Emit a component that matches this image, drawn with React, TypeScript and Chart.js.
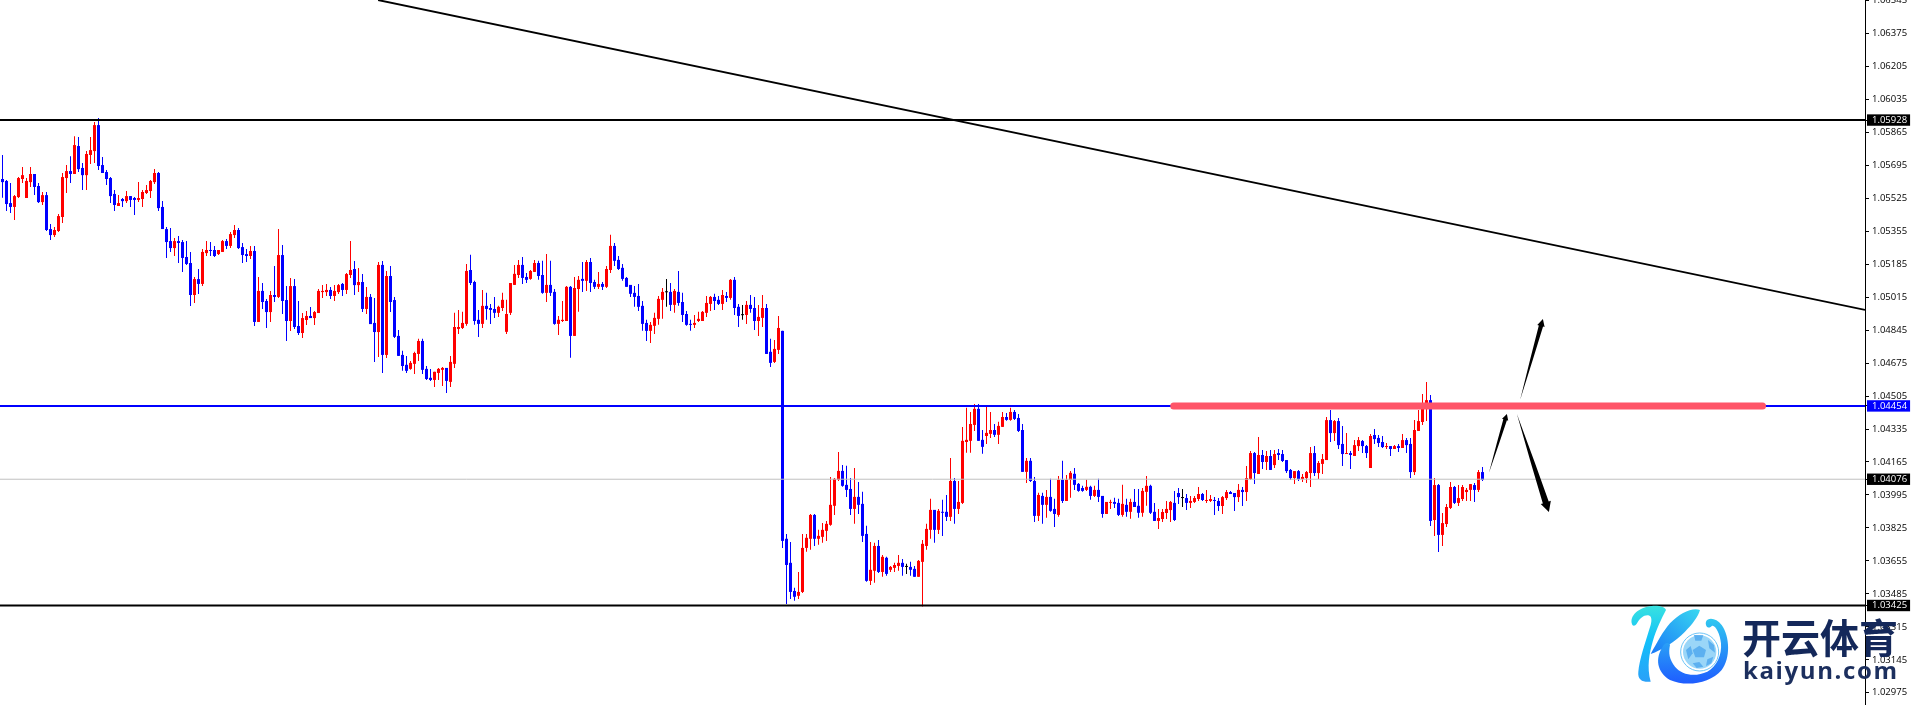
import { useEffect, useRef } from "react";
import { Chart, registerables } from "chart.js";

Chart.register(...registerables);

// Prices are stored in points (1/100000).
const opens = [
105624,105614,105500,105480,105531,105624,105526,105608,105650,105588,
105505,105541,105366,105335,105356,105428,105629,105665,105650,105794,
105681,105644,105748,105768,105902,105696,105660,105629,105547,105485,
105521,105510,105536,105526,105516,105521,105552,105562,105608,105655,
105480,105366,105304,105268,105304,105299,105222,105191,105026,105108,
105083,105242,105258,105258,105237,105248,105304,105279,105335,105361,
105273,105237,105227,105253,104887,105047,104995,104938,105026,105016,
105232,105000,104892,105072,104866,104830,104897,104918,104907,104933,
105041,105041,105052,105021,105041,105083,105052,105129,105160,105077,
105093,104954,105016,104882,104835,105181,104717,105124,105000,104815,
104717,104666,104645,104671,104722,104789,104645,104599,104588,104624,
104640,104650,104578,104671,104851,104856,104877,105155,105093,104898,
104877,104970,104959,104954,104934,104959,104836,104934,105078,105129,
105181,105119,105109,105145,105191,105129,105037,105078,105042,104877,
104892,104892,105068,104815,105057,105109,105099,105196,105093,105068,
105083,105068,105155,105279,105207,105166,105114,105078,105037,105021,
104970,104882,104841,104867,104903,105001,105040,105042,104975,105042,
104990,104928,104877,104872,104892,104892,104934,104980,105016,105001,
104980,105021,105011,105104,104965,104922,104923,104975,104959,104892,
104908,104959,104733,104681,104743,104841,103769,103645,103500,103475,
103495,103722,103769,103892,103769,103779,103810,103841,103939,104073,
104119,104047,104026,103923,103985,103949,103794,103552,103604,103732,
103598,103671,103609,103619,103629,103645,103624,103624,103614,103573,
103650,103732,103815,103918,103815,103908,103908,103882,104067,103923,
103954,104268,104274,104356,104439,104279,104299,104310,104330,104305,
104346,104397,104382,104423,104392,104330,104114,104171,104067,103887,
103990,103944,103985,103923,103892,104073,103964,104073,104104,104052,
104031,104021,104037,103990,104021,103990,103897,103954,103959,103954,
103892,103944,103908,103959,103939,103903,104011,104042,103908,103861,
103871,103902,103917,103954,104005,103979,103979,103954,103959,103974,
104000,103964,103964,103969,103964,103938,103979,104010,104005,103984,
104021,104010,104077,104211,104103,104201,104165,104196,104149,104211,
104206,104175,104124,104082,104118,104077,104082,104108,104211,104108,
104155,104175,104381,104314,104376,104258,104206,104211,104196,104247,
104273,104247,104134,104304,104289,104268,104242,104247,104232,104247,
104237,104278,104258,104113,104325,104371,104464,104484,103866,104046,
103789,103845,103928,104036,103954,103974,104010,104021,104046,104021,104113,
];
const highs = [
105748,105619,105603,105541,105634,105686,105629,105686,105650,105603,
105557,105557,105392,105376,105443,105655,105696,105742,105845,105840,
105706,105768,105840,105918,105938,105737,105670,105634,105567,105541,
105526,105562,105536,105531,105608,105567,105593,105619,105675,105660,
105510,105376,105371,105320,105330,105309,105304,105248,105119,105160,
105263,105304,105299,105279,105258,105309,105315,105351,105387,105371,
105294,105263,105279,105279,105119,105088,105005,105047,105175,105366,
105284,105072,105114,105108,104995,104933,104943,104964,104943,105057,
105077,105083,105067,105077,105083,105088,105139,105304,105201,105165,
105134,105067,105031,105011,105196,105201,105150,105175,105016,104846,
104738,104712,104686,104733,104800,104800,104660,104645,104630,104650,
104655,104650,104712,104934,104949,104939,105186,105233,105099,104949,
105052,105037,104980,105016,104970,105037,105001,105088,105181,105207,
105222,105140,105155,105207,105202,105202,105238,105202,105057,104918,
104995,105073,105073,105119,105124,105196,105207,105217,105104,105145,
105093,105176,105336,105294,105227,105186,105119,105078,105073,105083,
104995,104898,104887,104934,105021,105062,105109,105088,105057,105150,
105037,104944,104898,104923,104939,104944,105021,105021,105032,105021,
105052,105042,105109,105119,104980,104975,104995,105026,105016,104975,
105026,104980,104800,104794,104918,104841,103794,103753,103516,103598,
103794,103794,103897,103897,103815,103851,103861,104088,104083,104217,
104150,104145,104083,104134,104062,104011,103836,103753,103748,103763,
103686,103676,103629,103645,103686,103665,103640,103650,103629,103660,
103763,103846,103975,103918,103923,103970,103995,104186,104083,104067,
104346,104444,104423,104464,104464,104330,104449,104423,104361,104372,
104423,104418,104444,104433,104413,104361,104186,104186,104088,104006,
104006,104021,104078,103975,104093,104171,104098,104119,104134,104057,
104042,104073,104042,104042,104078,103990,103959,103970,103980,103975,
104047,103975,103975,104026,104026,104031,104093,104047,103954,103923,
103923,103964,103964,104015,104031,104026,104000,103990,103990,104036,
104005,104021,103995,103984,103979,103990,104021,104015,104005,104051,
104036,104144,104222,104216,104294,104227,104222,104227,104227,104232,
104227,104175,104129,104118,104124,104103,104118,104242,104247,104170,
104206,104397,104433,104381,104392,104350,104314,104222,104278,104294,
104278,104252,104309,104335,104304,104299,104263,104247,104252,104258,
104309,104289,104289,104381,104433,104515,104577,104510,104082,104051,
103902,103948,104062,104041,104046,104046,104031,104051,104057,104124,104139,
];
const lows = [
105528,105459,105449,105413,105526,105603,105526,105583,105541,105500,
105490,105356,105309,105325,105351,105397,105552,105603,105650,105660,
105567,105567,105701,105706,105670,105655,105593,105500,105459,105485,
105480,105500,105480,105438,105505,105480,105547,105526,105598,105459,
105366,105217,105248,105227,105191,105145,105181,104969,104985,105031,
105072,105227,105227,105222,105232,105248,105263,105268,105320,105263,
105191,105196,105212,104866,104887,104954,104856,104887,104990,105011,
104928,104789,104840,104851,104820,104804,104871,104907,104871,104933,
105011,105021,105005,104995,105031,105021,105031,105114,105026,105041,
104938,104928,104876,104681,104706,104624,104701,104938,104804,104712,
104635,104624,104640,104619,104686,104619,104588,104583,104552,104588,
104557,104521,104552,104650,104825,104851,104867,105078,104872,104810,
104856,104898,104877,104908,104913,104944,104825,104923,105078,105114,
105083,105088,105104,105145,105104,105032,104990,105021,104872,104820,
104887,104892,104702,104815,104939,105042,105047,105042,105057,105057,
105052,105062,105140,105176,105155,105099,105068,105016,104965,104944,
104841,104789,104779,104825,104872,104903,104965,104944,104934,104970,
104887,104867,104841,104856,104887,104892,104913,104944,104949,104975,
104949,104990,105001,104923,104861,104898,104877,104934,104846,104815,
104861,104722,104655,104676,104722,103722,103433,103459,103449,103459,
103490,103702,103712,103732,103738,103748,103758,103836,103892,104067,
104037,103985,103892,103846,103897,103753,103547,103531,103542,103593,
103573,103578,103598,103598,103604,103578,103588,103578,103573,103573,
103420,103712,103769,103748,103794,103784,103861,103861,103846,103897,
103949,104212,104212,104325,104274,104207,104258,104289,104294,104258,
104346,104377,104377,104382,104320,104114,104057,104062,103856,103861,
103846,103877,103908,103830,103882,103954,103964,103980,104021,104011,
104011,104016,103970,103985,103959,103877,103897,103923,103928,103887,
103882,103882,103872,103933,103877,103882,103939,103897,103861,103820,
103856,103871,103856,103861,103948,103933,103917,103928,103954,103964,
103964,103954,103959,103892,103912,103897,103969,104000,103912,103959,
103938,103964,104072,104051,104103,104129,104124,104124,104134,104175,
104165,104108,104072,104051,104067,104062,104057,104036,104093,104077,
104103,104175,104268,104273,104232,104144,104206,104129,104196,104222,
104211,104185,104134,104258,104242,104237,104232,104196,104232,104216,
104237,104211,104082,104098,104325,104356,104376,103835,103783,103701,
103732,103830,103923,103948,103938,103964,103964,103964,103959,104010,104067,
];
const closes = [
105608,105495,105480,105536,105629,105644,105614,105650,105583,105505,
105541,105361,105335,105361,105433,105634,105665,105650,105799,105675,
105644,105753,105773,105902,105691,105655,105624,105536,105490,105500,
105510,105536,105516,105516,105526,105557,105567,105614,105655,105474,
105366,105299,105268,105304,105294,105217,105186,105026,105108,105083,
105248,105258,105253,105227,105258,105304,105279,105340,105361,105268,
105232,105227,105253,104887,105047,104990,104938,105026,105016,105232,
104995,104892,105072,104861,104830,104907,104918,104907,104938,105047,
105047,105052,105021,105047,105077,105052,105134,105155,105077,105093,
104954,105016,104876,104835,105181,104717,105124,104990,104810,104712,
104660,104635,104676,104727,104789,104640,104593,104588,104630,104645,
104650,104583,104681,104861,104861,104882,105150,105088,104892,104877,
104970,104954,104949,104934,104965,105001,104928,105088,105135,105181,
105114,105104,105150,105191,105124,105037,105078,105037,104877,104898,
104898,105068,104815,105062,105104,105099,105196,105088,105068,105083,
105068,105160,105279,105202,105160,105109,105068,105032,105016,104965,
104877,104841,104872,104908,105006,105042,105040,104975,105047,104985,
104923,104872,104872,104882,104903,104939,104985,105016,104995,104980,
105026,105011,105104,104959,104918,104922,104975,104954,104892,104913,
104959,104722,104676,104748,104856,103758,103634,103495,103470,103495,
103722,103774,103892,103769,103784,103815,103846,103944,104078,104119,
104042,104021,103923,103985,103944,103784,103552,103609,103732,103598,
103676,103588,103624,103634,103645,103624,103624,103609,103573,103655,
103743,103820,103918,103815,103913,103903,103882,104067,103923,103959,
104274,104279,104361,104439,104274,104243,104315,104330,104305,104351,
104397,104382,104423,104387,104325,104114,104171,104067,103887,103995,
103944,103985,103913,103897,104073,103964,104073,104109,104047,104016,
104016,104037,103990,104021,103985,103897,103959,103959,103949,103892,
103949,103908,103959,103933,103903,104016,104042,103903,103861,103876,
103907,103923,103959,103866,103984,103979,103954,103964,103979,104000,
103969,103969,103974,103964,103938,103984,104010,104000,103984,104021,
104010,104082,104211,104108,104201,104165,104196,104124,104206,104201,
104170,104118,104082,104118,104077,104088,104113,104211,104108,104160,
104180,104381,104314,104376,104252,104206,104211,104201,104252,104278,
104247,104211,104299,104283,104263,104242,104247,104232,104247,104237,
104278,104252,104113,104330,104376,104464,104484,103861,104046,103789,
103850,103933,104036,103954,103979,104036,104021,104051,104021,104113,104072,
];

const tickValues = [
  102975, 103145, 103315, 103485, 103655, 103825, 103995, 104165, 104335, 104505, 104675,
  104845, 105015, 105185, 105355, 105525, 105695, 105865, 106035, 106205, 106375, 106545,
];
const tagValues = [105928, 104454, 104076, 103425];
const levelPrices = [105928, 104454, 104076, 103425];
const trendIndex = [93.9, 465.625];
const trendPrice = [106547, 104949];
const zoneIndex = [292.8, 440.0];
const zonePrice = [104454, 104454];
const arrowTailIndex = [371.6, 379.4, 378.6];
const arrowTailPrice = [104108, 104485, 104413];
const arrowTipIndex = [376.1, 385.1, 386.6];
const arrowTipPrice = [104413, 104902, 103907];
const arrowWeights = [3.4, 4, 5.6];

const SCALE = 100000;
const xMin = -0.625;
const xMax = 465.625;
const yMin = 102912 / SCALE;
const yMax = 106547 / SCALE;
const UP = "#FF0000";
const DOWN = "#0000FF";
const DOJI = "#000000";

const candleColor = (i: number) =>
  closes[i] > opens[i] ? UP : closes[i] < opens[i] ? DOWN : DOJI;

const arrowPlugin = {
  id: "arrows",
  afterDatasetsDraw(chart: any) {
    const { ctx, scales } = chart;
    ctx.save();
    ctx.fillStyle = "#000";
    arrowTipIndex.forEach((_, i) => {
      const x0 = scales.x.getPixelForValue(arrowTailIndex[i]);
      const y0 = scales.y.getPixelForValue(arrowTailPrice[i] / SCALE);
      const x1 = scales.x.getPixelForValue(arrowTipIndex[i]);
      const y1 = scales.y.getPixelForValue(arrowTipPrice[i] / SCALE);
      const len = Math.hypot(x1 - x0, y1 - y0);
      const ux = (x1 - x0) / len;
      const uy = (y1 - y0) / len;
      const nx = -uy;
      const ny = ux;
      const w = arrowWeights[i];
      const head = w * 1.8;
      const bx = x1 - ux * head;
      const by = y1 - uy * head;
      const mx = x0 + (bx - x0) * 0.55;
      const my = y0 + (by - y0) * 0.55;
      const shaft = w * 0.55;
      const mid = w * 0.34;
      const headWide = w * 0.95;
      ctx.beginPath();
      ctx.moveTo(x0, y0);
      ctx.lineTo(mx + nx * mid, my + ny * mid);
      ctx.lineTo(bx + nx * shaft, by + ny * shaft);
      ctx.lineTo(bx + nx * headWide, by + ny * headWide);
      ctx.lineTo(x1, y1);
      ctx.lineTo(bx - nx * headWide, by - ny * headWide);
      ctx.lineTo(bx - nx * shaft, by - ny * shaft);
      ctx.lineTo(mx - nx * mid, my - ny * mid);
      ctx.closePath();
      ctx.fill();
    });
    ctx.restore();
  },
};

function Logo() {
  return (
    <svg
      width={1912}
      height={705}
      style={{ position: "absolute", left: 0, top: 0, pointerEvents: "none" }}
    >
      <defs>
        <linearGradient id="kStem" x1="0" y1="0" x2="0" y2="1">
          <stop offset="0" stopColor="#38E2E0" />
          <stop offset="0.45" stopColor="#12C0FA" />
          <stop offset="1" stopColor="#2AA0F8" />
        </linearGradient>
        <linearGradient id="kArm" x1="1" y1="0" x2="0" y2="1">
          <stop offset="0" stopColor="#38D8F0" />
          <stop offset="1" stopColor="#1A78F8" />
        </linearGradient>
        <linearGradient id="kSwoosh" x1="0" y1="0" x2="0" y2="1">
          <stop offset="0" stopColor="#30C8F0" />
          <stop offset="1" stopColor="#1E5CFF" />
        </linearGradient>
      </defs>
      <g transform="translate(1620 600) scale(0.3333)">
        <path
          d="M36,72 C28,48 55,22 95,18 C120,16 135,22 138,30 C125,55 110,85 98,125 C88,160 80,200 92,245 C70,248 52,240 55,215 C58,180 75,130 92,75 C96,60 95,48 85,46 C72,44 60,55 52,68 C47,78 38,80 36,72 Z"
          fill="url(#kStem)"
        />
        <path
          d="M240,30 C215,22 180,40 150,70 C130,92 110,130 92,162 C125,150 165,125 195,95 C215,75 235,50 240,30 Z"
          fill="url(#kArm)"
        />
        <path
          d="M128,140 C105,175 110,215 150,240 C200,262 270,250 305,210 C332,175 330,110 305,75 C290,55 265,50 258,65 C254,80 268,88 275,78 C285,72 300,100 303,130 C306,165 290,200 262,215 C225,232 185,225 165,200 C148,178 145,160 150,135 C145,125 135,128 128,140 Z"
          fill="url(#kSwoosh)"
        />
        <circle cx="239" cy="156" r="57" fill="#fff" stroke="#6CC4F6" strokeWidth="3" />
        <circle cx="239" cy="156" r="50" fill="#9AD6F8" />
        <polygon points="238,137 258,150 252,172 226,172 218,150" fill="#5CB0F0" />
        <polygon points="198,150 212,138 218,160 205,178" fill="#5CB0F0" />
        <polygon points="264,120 282,135 285,158 268,145" fill="#5CB0F0" />
        <polygon points="222,105 250,106 244,122 226,122" fill="#5CB0F0" />
        <polygon points="218,190 238,186 250,200 230,204" fill="#5CB0F0" />
        <polygon points="262,178 280,170 274,190 258,198" fill="#5CB0F0" />
      </g>
      <text
        x={1742}
        y={653}
        textLength={156}
        lengthAdjust="spacingAndGlyphs"
        fontFamily="'Noto Sans CJK SC'"
        fontWeight={700}
        fontSize={40}
        fill="#14285A"
      >
        开云体育
      </text>
      <text
        x={1743}
        y={679}
        textLength={154}
        lengthAdjust="spacing"
        fontFamily="'Open Sans'"
        fontWeight={700}
        fontSize={24}
        fill="#1C2F5E"
      >
        kaiyun.com
      </text>
    </svg>
  );
}

export default function App() {
  const ref = useRef<HTMLCanvasElement | null>(null);

  useEffect(() => {
    const colors = opens.map((_, i) => candleColor(i));
    const line = (xs: number[], ys: number[], color: string, width: number, cap = "butt") => ({
      type: "line" as const,
      data: xs.map((x, i) => ({ x, y: ys[i] / SCALE })),
      borderColor: color,
      borderWidth: width,
      borderCapStyle: cap,
      pointRadius: 0,
      order: 1,
      tension: 0,
    });
    const chart = new Chart(ref.current as HTMLCanvasElement, {
      type: "bar",
      plugins: [arrowPlugin],
      data: {
        datasets: [
          line(zoneIndex, zonePrice, "#FF5568", 7, "round"),
          line(trendIndex, trendPrice, "#000000", 1.8),
          line([xMin, xMax], [levelPrices[0], levelPrices[0]], "#000000", 2),
          line([xMin, xMax], [levelPrices[1], levelPrices[1]], "#0000FF", 2),
          line([xMin, xMax], [levelPrices[2], levelPrices[2]], "#C0C0C0", 1),
          line([xMin, xMax], [levelPrices[3], levelPrices[3]], "#000000", 2),
          {
            type: "bar" as const,
            data: opens.map((o, i) => ({
              x: i,
              y: [Math.min(o, closes[i]) / SCALE, Math.max(o, closes[i]) / SCALE],
            })),
            backgroundColor: colors,
            barThickness: 3,
            minBarLength: 1,
            grouped: false,
            borderWidth: 0,
            borderSkipped: false,
            inflateAmount: 0,
            order: 2,
          },
          {
            type: "bar" as const,
            data: opens.map((_, i) => ({ x: i, y: [lows[i] / SCALE, highs[i] / SCALE] })),
            backgroundColor: colors,
            barThickness: 1,
            grouped: false,
            borderWidth: 0,
            borderSkipped: false,
            inflateAmount: 0,
            order: 3,
          },
        ],
      } as any,
      options: {
        animation: false,
        responsive: false,
        maintainAspectRatio: false,
        layout: { padding: 0 },
        plugins: { legend: { display: false }, title: { display: false }, tooltip: { enabled: false } },
        scales: {
          x: { type: "linear", min: xMin, max: xMax, offset: false, display: false },
          y: {
            type: "linear",
            position: "right",
            min: yMin,
            max: yMax,
            grid: { drawOnChartArea: false, tickLength: 4, tickColor: "#000", tickWidth: 1 },
            border: { color: "#000", width: 1 },
            afterBuildTicks: (scale: any) => {
              scale.ticks = [...tickValues, ...tagValues].map((v) => ({ value: v / SCALE }));
            },
            afterFit: (scale: any) => {
              scale.width = 47;
              scale.paddingTop = 0;
              scale.paddingBottom = 0;
            },
            ticks: {
              autoSkip: false,
              padding: 3,
              maxRotation: 0,
              font: { family: "'Open Sans'", size: 9.5 },
              callback: (v: any) => Number(v).toFixed(5),
              color: (c: any) =>
                tagValues.includes(Math.round(c.tick.value * SCALE)) ? "#FFFFFF" : "#000000",
              showLabelBackdrop: (c: any) => tagValues.includes(Math.round(c.tick.value * SCALE)),
              backdropColor: (c: any) =>
                Math.round(c.tick.value * SCALE) === tagValues[1] ? "#0000FF" : "#000000",
              backdropPadding: { left: 5, right: 3, top: 0, bottom: 0 },
            } as any,
          },
        },
      } as any,
    });
    return () => chart.destroy();
  }, []);

  return (
    <div style={{ position: "fixed", left: 0, top: 0, width: 1912, height: 705, background: "#fff", overflow: "hidden" }}>
      <canvas ref={ref} width={1912} height={705} style={{ display: "block" }} />
      <Logo />
    </div>
  );
}
